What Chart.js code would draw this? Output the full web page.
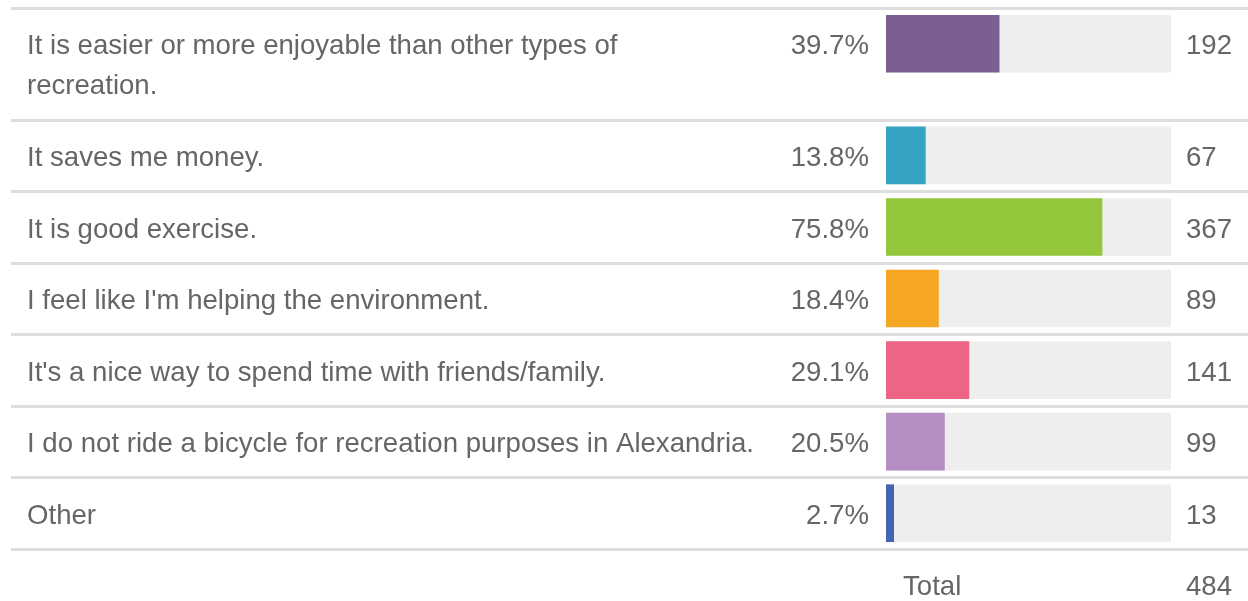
<!DOCTYPE html>
<html>
<head>
<meta charset="utf-8">
<script src="https://cdn.jsdelivr.net/npm/chart.js@4"></script>
<style>
  html, body { margin: 0; padding: 0; background: #fff; }
  canvas { display: block; }
</style>
</head>
<body>
<canvas id="answerChart" width="1248" height="601"></canvas>
<script>
// Answer choices (a label split over several lines = array)
const answers = [
    ['It is easier or more enjoyable than other types of', 'recreation.'],
    'It saves me money.',
    'It is good exercise.',
    "I feel like I'm helping the environment.",
    "It's a nice way to spend time with friends/family.",
    'I do not ride a bicycle for recreation purposes in Alexandria.',
    'Other'
];
const percents = [39.7, 13.8, 75.8, 18.4, 29.1, 20.5, 2.7];
const counts = [192, 67, 367, 89, 141, 99, 13];
const totalCount = 484;
const barColors = ['#7b5e93', '#35a3c4', '#95c73d', '#f5a623', '#ec6585', '#b48dc3', '#4466b0'];

// Mỗi dòng chữ thêm vào làm hàng cao thêm (đơn vị = một hàng)
const extraLine = 0.56;
const lineCount = answers.map(a => Array.isArray(a) ? a.length : 1);
const rowHeights = lineCount.map(n => 1 + (n - 1) * extraLine);
const rowTops = [];
let acc = 0;
rowHeights.forEach(h => { rowTops.push(acc); acc += h; });
const totalUnits = acc;

const font = '27.6px "Liberation Sans", Arial, sans-serif';
const textColor = '#666666';
const textShift = 3; // chữ hơi thấp hơn tâm thanh

// Vẽ chữ, đường kẻ và tổng
const tablePlugin = {
    id: 'tableText',
    beforeDatasetsDraw(chart) {
        const ctx = chart.ctx;
        const y = chart.scales.y;
        ctx.save();
        ctx.strokeStyle = '#dddddd';
        ctx.lineWidth = 3;
        const bounds = rowTops.concat([totalUnits]);
        bounds.forEach(b => {
            const py = Math.round(y.getPixelForValue(b)) + 0.5;
            ctx.beginPath();
            ctx.moveTo(11, py);
            ctx.lineTo(chart.width, py);
            ctx.stroke();
        });
        ctx.restore();
    },
    afterDatasetsDraw(chart) {
        const ctx = chart.ctx;
        const y = chart.scales.y;
        const area = chart.chartArea;
        ctx.save();
        ctx.font = font;
        ctx.fillStyle = textColor;
        ctx.textBaseline = 'middle';
        answers.forEach((a, i) => {
            const lines = Array.isArray(a) ? a : [a];
            ctx.textAlign = 'left';
            lines.forEach((t, j) => {
                ctx.fillText(t, 27, y.getPixelForValue(rowTops[i] + 0.5 + j * extraLine) + textShift);
            });
            const mid = y.getPixelForValue(rowTops[i] + 0.5) + textShift;
            ctx.textAlign = 'right';
            ctx.fillText(percents[i].toFixed(1) + '%', area.left - 17, mid);
            ctx.textAlign = 'left';
            ctx.fillText(String(counts[i]), area.right + 15, mid);
        });
        const totY = y.getPixelForValue(totalUnits + 0.5) + textShift;
        ctx.textAlign = 'left';
        ctx.fillText('Total', area.left + 17, totY);
        ctx.fillText(String(totalCount), area.right + 15, totY);
        ctx.restore();
    }
};

new Chart(document.getElementById('answerChart'), {
    type: 'bar',
    data: {
        datasets: [{
            label: 'Responses',
            data: percents.map((p, i) => ({ x: p, y: rowTops[i] + 0.5 })),
            backgroundColor: barColors,
            borderWidth: 0,
            barThickness: 57,
            grouped: false,
            order: 0
        }, {
            label: 'Track',
            data: percents.map((p, i) => ({ x: 100, y: rowTops[i] + 0.5 })),
            backgroundColor: '#eeeeee',
            borderWidth: 0,
            barThickness: 57,
            grouped: false,
            order: 1
        }]
    },
    options: {
        indexAxis: 'y',
        responsive: false,
        animation: false,
        layout: {
            padding: { left: 886, right: 77, top: 8, bottom: 52 }
        },
        plugins: {
            legend: { display: false },
            tooltip: { enabled: false }
        },
        scales: {
            x: { type: 'linear', min: 0, max: 100, display: false },
            y: { type: 'linear', min: 0, max: totalUnits, reverse: true, offset: false, display: false }
        }
    },
    plugins: [tablePlugin]
});
</script>
</body>
</html>
